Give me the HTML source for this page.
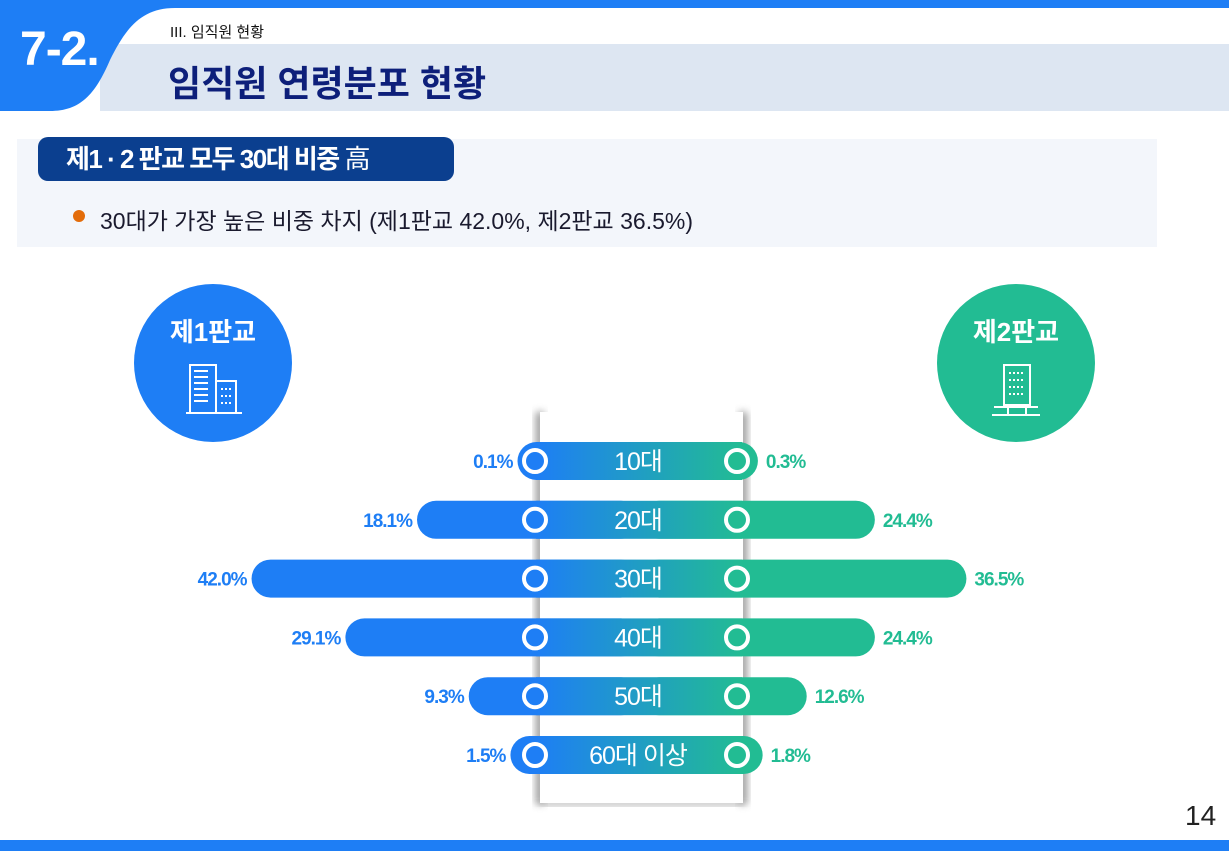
<!DOCTYPE html>
<html><head><meta charset="utf-8">
<style>
body{margin:0;width:1229px;height:851px;overflow:hidden;background:#fff;font-family:"Liberation Sans","Noto Sans CJK KR",sans-serif;position:relative}
.abs{position:absolute}
</style></head>
<body>
<div class="abs" style="left:0;top:0;width:1229px;height:8px;background:#1e7ef5"></div>
<div class="abs" style="left:100px;top:44px;width:1129px;height:67px;background:#dde6f2"></div>
<svg class="abs" style="left:0;top:0" width="200" height="115">
<path d="M0 0 H200 V8 H175 C140 8 125 30 110 60 C95 95 80 111 50 111 H0 Z" fill="#1e7ef5"/>
</svg>
<div class="abs" style="left:20px;top:22px;color:#fff;font-size:48px;font-weight:bold;letter-spacing:-1px">7-2.</div>
<div class="abs" style="left:170px;top:21px;font-size:15px;color:#111">III. 임직원 현황</div>
<div class="abs" style="left:168px;top:55px;font-size:36px;font-weight:bold;color:#0d1f7a">임직원 연령분포 현황</div>
<div class="abs" style="left:17px;top:139px;width:1140px;height:108px;background:#f3f6fb"></div>
<div class="abs" style="left:38px;top:137px;width:416px;height:44px;background:#0b3f8f;border-radius:10px;color:#fff;font-size:26px;font-weight:bold;line-height:44px;padding-left:28px;box-sizing:border-box;letter-spacing:-1.5px">제1 · 2 판교 모두 30대 비중 <span style="font-weight:normal">高</span></div>
<div class="abs" style="left:73px;top:210px;width:12px;height:12px;border-radius:50%;background:#e36c0a"></div>
<div class="abs" style="left:100px;top:202px;font-size:23px;color:#1a1a2e">30대가 가장 높은 비중 차지 (제1판교 42.0%, 제2판교 36.5%)</div>

<div class="abs" style="left:134px;top:284px;width:158px;height:158px;border-radius:50%;background:#1e7ef5"></div>
<div class="abs" style="left:134px;top:312px;width:158px;text-align:center;color:#fff;font-size:26px;font-weight:bold">제1판교</div>
<svg class="abs" style="left:186px;top:363px" width="56" height="56" fill="none" stroke="#fff" stroke-width="2">
<rect x="4" y="2" width="26" height="48"/><rect x="30" y="18" width="20" height="32"/><line x1="0" y1="50" x2="56" y2="50"/>
<line x1="8" y1="8" x2="22" y2="8"/><line x1="8" y1="14" x2="22" y2="14"/><line x1="8" y1="20" x2="22" y2="20"/><line x1="8" y1="26" x2="22" y2="26"/><line x1="8" y1="32" x2="22" y2="32"/><line x1="8" y1="38" x2="22" y2="38"/>
<line x1="35" y1="26" x2="45" y2="26" stroke-dasharray="2 2"/><line x1="35" y1="33" x2="45" y2="33" stroke-dasharray="2 2"/><line x1="35" y1="40" x2="45" y2="40" stroke-dasharray="2 2"/>
</svg>
<div class="abs" style="left:937px;top:284px;width:158px;height:158px;border-radius:50%;background:#22bc93"></div>
<div class="abs" style="left:937px;top:312px;width:158px;text-align:center;color:#fff;font-size:26px;font-weight:bold">제2판교</div>
<svg class="abs" style="left:988px;top:363px" width="56" height="56" fill="none" stroke="#fff" stroke-width="2">
<rect x="16" y="2" width="26" height="40"/><line x1="6" y1="44" x2="50" y2="44"/><line x1="20" y1="44" x2="20" y2="52"/><line x1="38" y1="44" x2="38" y2="52"/><line x1="4" y1="52" x2="52" y2="52"/>
<line x1="21" y1="10" x2="37" y2="10" stroke-dasharray="2 2"/><line x1="21" y1="17" x2="37" y2="17" stroke-dasharray="2 2"/><line x1="21" y1="24" x2="37" y2="24" stroke-dasharray="2 2"/><line x1="21" y1="31" x2="37" y2="31" stroke-dasharray="2 2"/>
</svg>

<svg class="abs" id="chart" style="left:0;top:0" width="1229" height="851">
<defs>
<linearGradient id="mid" x1="0" x2="1"><stop offset="0" stop-color="#1e7ef5"/><stop offset="1" stop-color="#22bc93"/></linearGradient>
<filter id="sh" x="-50%" y="-10%" width="200%" height="120%"><feGaussianBlur stdDeviation="4"/></filter>
</defs>
<rect x="536" y="412" width="8" height="392" fill="#777" filter="url(#sh)" opacity="0.8"/>
<rect x="739" y="412" width="8" height="392" fill="#777" filter="url(#sh)" opacity="0.8"/>
<rect x="540" y="800" width="203" height="6" fill="#888" filter="url(#sh)" opacity="0.6"/>
<rect x="540" y="412" width="203" height="391" fill="#fff"/>
<g id="bars"></g>
</svg>
<div class="abs" style="left:1185px;top:800px;font-size:28px;color:#222">14</div>
<div class="abs" style="left:0;top:840px;width:1229px;height:11px;background:#1e7ef5"></div>

<script>
const categories = ["10대","20대","30대","40대","50대","60대 이상"];
const campus1 = [0.1, 18.1, 42.0, 29.1, 9.3, 1.5];
const campus2 = [0.3, 24.4, 36.5, 24.4, 12.6, 1.8];

const NS = "http://www.w3.org/2000/svg";
const g = document.getElementById("bars");
const rowY = i => 461 + i * 58.8;
const leftX = v => 518 - (5 * v + 0.032 * v * v);
const rightX = v => 757 + (3 * v + 0.075 * v * v);
const H = 38;
function mk(tag, attrs){const e=document.createElementNS(NS,tag);for(const k in attrs)e.setAttribute(k,attrs[k]);g.appendChild(e);return e;}
categories.forEach((c,i)=>{
  const y = rowY(i);
  const lx = leftX(campus1[i]), rx = rightX(campus2[i]);
  const lb = mk("rect",{x:lx,y:y-H/2,width:640-lx,height:H,rx:H/2,fill:"#1e7ef5"});
  
  
  const rb = mk("rect",{x:640,y:y-H/2,width:rx-640,height:H,rx:H/2,fill:"#22bc93"});
  
  
  const mid = mk("rect",{x:536,y:y-H/2,width:206,height:H,fill:"url(#mid)"});
  
  
  [[535,"#1e7ef5"],[737,"#22bc93"]].forEach(([cx,col])=>{
    const ci = mk("circle",{cx:cx,cy:y,r:11,fill:col,stroke:"#fff","stroke-width":4});
    
    
  });
  const t = mk("text",{x:638,y:y+9,"text-anchor":"middle",fill:"#fff","font-size":25,"letter-spacing":"-1"});
  t.textContent = c;
  
  
  const l1 = mk("text",{x:lx-5,y:y+7,"text-anchor":"end",fill:"#1e7ef5","font-size":19,"font-weight":"bold","letter-spacing":"-1"});
  l1.textContent = campus1[i].toFixed(1) + "%";
  
  
  const l2 = mk("text",{x:rx+8,y:y+7,"text-anchor":"start",fill:"#22bc93","font-size":19,"font-weight":"bold","letter-spacing":"-1"});
  l2.textContent = campus2[i].toFixed(1) + "%";
  
  
});
</script>
</body></html>
